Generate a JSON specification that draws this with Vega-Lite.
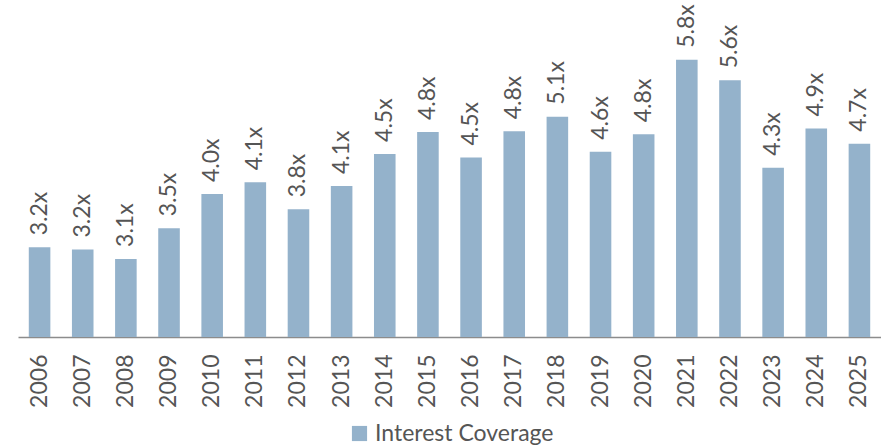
{
  "$schema": "https://vega.github.io/schema/vega-lite/v6.json",
  "width": 863,
  "height": 337,
  "autosize": "none",
  "padding": {"left": 18, "top": 0, "right": 0, "bottom": 108},
  "background": "white",
  "config": {
    "view": {"stroke": null},
    "font": "Lato",
    "text": {"font": "Lato"}
  },
  "data": {
    "values": [
      {"year": "2006", "value": 3.23, "label": "3.2x", "series": "Interest Coverage"},
      {"year": "2007", "value": 3.20, "label": "3.2x", "series": "Interest Coverage"},
      {"year": "2008", "value": 3.07, "label": "3.1x", "series": "Interest Coverage"},
      {"year": "2009", "value": 3.49, "label": "3.5x", "series": "Interest Coverage"},
      {"year": "2010", "value": 3.96, "label": "4.0x", "series": "Interest Coverage"},
      {"year": "2011", "value": 4.12, "label": "4.1x", "series": "Interest Coverage"},
      {"year": "2012", "value": 3.75, "label": "3.8x", "series": "Interest Coverage"},
      {"year": "2013", "value": 4.07, "label": "4.1x", "series": "Interest Coverage"},
      {"year": "2014", "value": 4.51, "label": "4.5x", "series": "Interest Coverage"},
      {"year": "2015", "value": 4.81, "label": "4.8x", "series": "Interest Coverage"},
      {"year": "2016", "value": 4.46, "label": "4.5x", "series": "Interest Coverage"},
      {"year": "2017", "value": 4.82, "label": "4.8x", "series": "Interest Coverage"},
      {"year": "2018", "value": 5.02, "label": "5.1x", "series": "Interest Coverage"},
      {"year": "2019", "value": 4.54, "label": "4.6x", "series": "Interest Coverage"},
      {"year": "2020", "value": 4.78, "label": "4.8x", "series": "Interest Coverage"},
      {"year": "2021", "value": 5.80, "label": "5.8x", "series": "Interest Coverage"},
      {"year": "2022", "value": 5.52, "label": "5.6x", "series": "Interest Coverage"},
      {"year": "2023", "value": 4.32, "label": "4.3x", "series": "Interest Coverage"},
      {"year": "2024", "value": 4.86, "label": "4.9x", "series": "Interest Coverage"},
      {"year": "2025", "value": 4.65, "label": "4.7x", "series": "Interest Coverage"}
    ]
  },
  "encoding": {
    "x": {
      "field": "year",
      "type": "ordinal",
      "scale": {"paddingInner": 0.5, "paddingOuter": 0.25},
      "axis": {
        "title": null,
        "labelAngle": -90,
        "labelAlign": "right",
        "labelBaseline": "middle",
        "labelFont": "Lato",
        "labelFontSize": 23,
        "labelColor": "#555555",
        "labelPadding": 17,
        "ticks": false,
        "domainColor": "#8c8c8c",
        "domainWidth": 1.6,
        "grid": false
      }
    },
    "y": {
      "field": "value",
      "type": "quantitative",
      "scale": {"domain": [2, 6.62], "nice": false, "zero": false},
      "axis": null
    }
  },
  "layer": [
    {
      "mark": {"type": "bar", "clip": true},
      "encoding": {
        "color": {
          "field": "series",
          "type": "nominal",
          "scale": {"range": ["#94B2CB"]},
          "legend": {
            "title": null,
            "orient": "none",
            "legendX": 330,
            "legendY": 422,
            "symbolType": "square",
            "symbolSize": 230,
            "symbolStrokeWidth": 0,
            "labelFont": "Lato",
            "labelFontSize": 23,
            "labelColor": "#555555",
            "labelOffset": 4,
            "labelLimit": 0
          }
        }
      }
    },
    {
      "mark": {
        "type": "text",
        "angle": 270,
        "align": "left",
        "baseline": "middle",
        "dx": 12,
        "font": "Lato",
        "fontSize": 23,
        "color": "#555555"
      },
      "encoding": {"text": {"field": "label"}}
    }
  ]
}
